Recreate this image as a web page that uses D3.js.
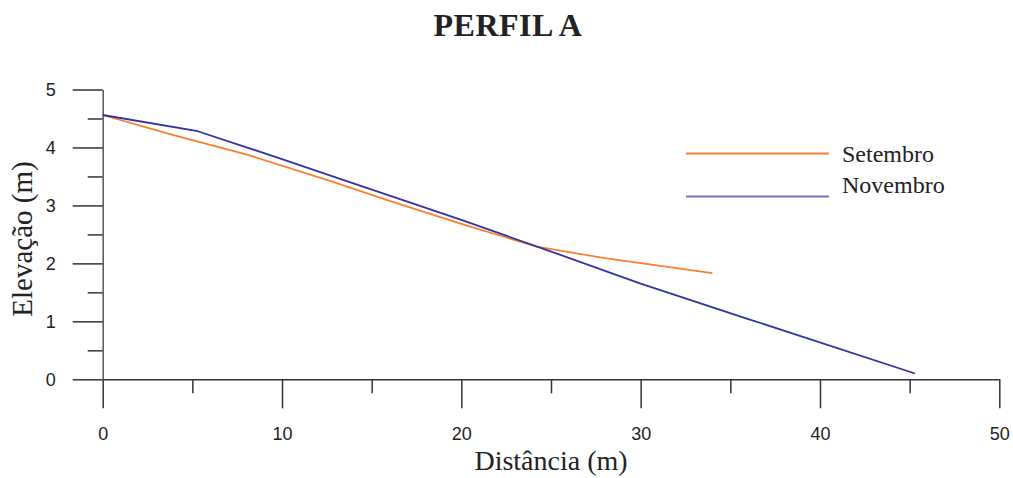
<!DOCTYPE html>
<html>
<head>
<meta charset="utf-8">
<script src="https://cdn.jsdelivr.net/npm/d3@7"></script>
<style>
	html, body { margin: 0; padding: 0; background: #fff; overflow: hidden; }
	svg { display: block; }
	.serif { font-family: "Liberation Serif", "Times New Roman", serif; fill: #222; }
</style>
</head>
<body>
<div id="chart"></div>
<script>

///////////////////////////////////////////////////////////////////////////
//////////////////////////////// The data /////////////////////////////////
///////////////////////////////////////////////////////////////////////////

var seriesNames = ["Setembro", "Novembro"];
var seriesColors = ["#fb7f2c", "#3232a2"];

//Distância (m) / Elevação (m)
var setembroX = [0, 4, 8, 12.5, 16, 20, 24.2, 28, 34];
var setembroY = [4.56, 4.21, 3.88, 3.44, 3.08, 2.68, 2.29, 2.09, 1.83];

var novembroX = [0, 5.3, 10, 13.4, 16, 20, 24.5, 30, 36, 45.3];
var novembroY = [4.56, 4.28, 3.80, 3.44, 3.17, 2.75, 2.26, 1.65, 1.04, 0.10];

var xMajorTicks = [0, 10, 20, 30, 40, 50],
	xMinorTicks = [5, 15, 25, 35, 45];
var yMajorTicks = [0, 1, 2, 3, 4, 5],
	yMinorTicks = [0.5, 1.5, 2.5, 3.5, 4.5];

///////////////////////////////////////////////////////////////////////////
//////////////////////////// Set up the SVG ///////////////////////////////
///////////////////////////////////////////////////////////////////////////

var width = 1013,
	height = 478;

var margin = { top: 89.5, right: 13.7, bottom: 98.7, left: 102.7 };
var innerWidth = width - margin.left - margin.right,
	innerHeight = height - margin.top - margin.bottom;

var svg = d3.select("#chart")
	.append("svg")
	.attr("width", width)
	.attr("height", height);

var g = svg.append("g")
	.attr("transform", "translate(" + margin.left + "," + margin.top + ")");

var x = d3.scaleLinear().domain([0, 50]).range([0, innerWidth]);
var y = d3.scaleLinear().domain([0, 5]).range([innerHeight, 0]);

///////////////////////////////////////////////////////////////////////////
/////////////////////////////// Axes //////////////////////////////////////
///////////////////////////////////////////////////////////////////////////

//Minor ticks first, without labels
g.append("g")
	.attr("transform", "translate(0," + innerHeight + ")")
	.call(d3.axisBottom(x).tickValues(xMinorTicks).tickSize(14).tickFormat(""))
	.call(function(s) { s.select(".domain").remove(); s.selectAll("text").remove(); });

g.append("g")
	.call(d3.axisLeft(y).tickValues(yMinorTicks).tickSize(15).tickFormat(""))
	.call(function(s) { s.select(".domain").remove(); s.selectAll("text").remove(); });

var xAxis = g.append("g")
	.attr("transform", "translate(0," + innerHeight + ")")
	.call(d3.axisBottom(x).tickValues(xMajorTicks).tickSize(29).tickSizeOuter(0).tickPadding(19).tickFormat(d3.format("d")));

var yAxis = g.append("g")
	.call(d3.axisLeft(y).tickValues(yMajorTicks).tickSize(30).tickSizeOuter(0).tickPadding(17).tickFormat(d3.format("d")));

g.selectAll(".domain, .tick line")
	.attr("stroke", "#333")
	.attr("stroke-width", 1.5);

yAxis.selectAll(".domain").attr("stroke", "#555");

[xAxis, yAxis].forEach(function(a) {
	a.attr("font-family", "Liberation Sans, Arial, sans-serif")
		.attr("font-size", 18);
	a.selectAll(".tick text").attr("fill", "#222");
});
yAxis.selectAll(".tick text").attr("dy", "0.36em");

///////////////////////////////////////////////////////////////////////////
/////////////////////////////// Lines /////////////////////////////////////
///////////////////////////////////////////////////////////////////////////

var series = [
	{ name: seriesNames[0], color: seriesColors[0], values: setembroX.map(function(d, i) { return [d, setembroY[i]]; }) },
	{ name: seriesNames[1], color: seriesColors[1], values: novembroX.map(function(d, i) { return [d, novembroY[i]]; }) }
];

var line = d3.line()
	.x(function(d) { return x(d[0]); })
	.y(function(d) { return y(d[1]); });

g.selectAll(".profile-line")
	.data(series)
	.enter().append("path")
	.attr("class", "profile-line")
	.attr("fill", "none")
	.attr("stroke", function(d) { return d.color; })
	.attr("stroke-width", 1.8)
	.attr("stroke-linejoin", "round")
	.attr("d", function(d) { return line(d.values); });

///////////////////////////////////////////////////////////////////////////
/////////////////////////////// Texts /////////////////////////////////////
///////////////////////////////////////////////////////////////////////////

svg.append("text")
	.attr("class", "serif")
	.attr("x", 508)
	.attr("y", 36)
	.attr("text-anchor", "middle")
	.style("font-size", "32px")
	.style("font-weight", "bold")
	.style("letter-spacing", "0.5px")
	.text("PERFIL A");

svg.append("text")
	.attr("class", "serif")
	.attr("x", margin.left + innerWidth / 2)
	.attr("y", 470)
	.attr("text-anchor", "middle")
	.style("font-size", "28px")
	.text("Distância (m)");

svg.append("text")
	.attr("class", "serif")
	.attr("transform", "translate(32," + 239 + ") rotate(-90)")
	.attr("text-anchor", "middle")
	.style("font-size", "29px")
	.text("Elevação (m)");

///////////////////////////////////////////////////////////////////////////
/////////////////////////////// Legend ////////////////////////////////////
///////////////////////////////////////////////////////////////////////////

var legendLineY = [153.5, 196.5],
	legendTextY = [154, 185];

var legend = svg.append("g").attr("class", "legend");

legend.selectAll(".legend-line")
	.data(series)
	.enter().append("line")
	.attr("x1", 686)
	.attr("x2", 829)
	.attr("y1", function(d, i) { return legendLineY[i]; })
	.attr("y2", function(d, i) { return legendLineY[i]; })
	.attr("stroke", function(d, i) { return i === 0 ? d.color : "#7474c4"; })
	.attr("stroke-width", 2);

legend.selectAll(".legend-text")
	.data(series)
	.enter().append("text")
	.attr("class", "serif")
	.attr("x", 842)
	.attr("y", function(d, i) { return legendTextY[i]; })
	.attr("dy", "0.33em")
	.style("font-size", "24px")
	.text(function(d) { return d.name; });

</script>
</body>
</html>
